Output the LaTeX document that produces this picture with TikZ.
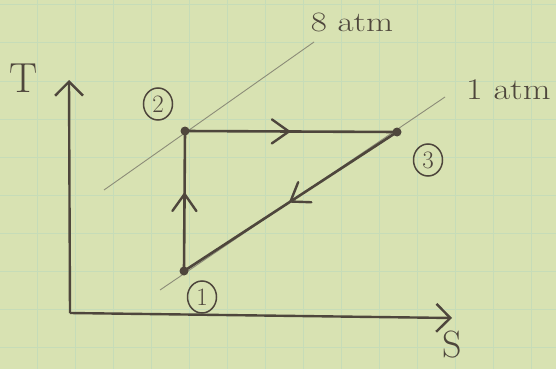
\documentclass[tikz,border=0pt]{standalone}
\usetikzlibrary{arrows.meta,decorations.markings,shapes.geometric}
\definecolor{paper}{RGB}{216,226,178}
\definecolor{gridc}{RGB}{198,220,184}
\definecolor{pencil}{RGB}{78,70,60}
\definecolor{faint}{RGB}{140,140,120}
\tikzset{
  axis/.style={draw=pencil, line width=2.4pt, -{Straight Barb[length=14pt,width=28pt,line width=2.4pt]}},
  cycleline/.style={draw=pencil, line width=2.6pt},
  isobar/.style={draw=faint, line width=0.9pt},
  state/.style={circle, fill=pencil, inner sep=0pt, minimum size=9pt},
  statelabel/.style={ellipse, draw=pencil, line width=1.5pt, inner sep=0pt, minimum width=29pt, minimum height=32pt, text=pencil, font=\fontsize{25}{25}\selectfont},
  handtext/.style={text=pencil, inner sep=0pt},
  midchevron/.style={postaction={decorate}, decoration={markings, mark=at position #1 with {\draw[pencil, line width=2.4pt, line cap=round, line join=round] (-17pt,-12pt) -- (0pt,0pt) -- (-17pt,12pt);}}}
}
\begin{document}
\begin{tikzpicture}[x=1pt,y=-1pt]
\useasboundingbox (0,0) rectangle (556,369);
\fill[paper] (0,0) rectangle (556,369);
% grid
\foreach \gx in {37,75,113,151,189,227,265,303,341,379,417,455,493,531}
  \draw[gridc, line width=1pt] (\gx,0) -- (\gx,369);
\foreach \gy in {5,43,81,119,157,195,233,271,309,347}
  \draw[gridc, line width=1pt] (0,\gy) -- (556,\gy);
% axes
\coordinate (O) at (70,313);
\coordinate (Ttip) at (69,80);
\coordinate (Stip) at (452,318);
\draw[axis] (O) -- (Ttip);
\draw[axis] (O) -- (Stip);
\node[handtext, font=\fontsize{42}{42}\selectfont] (Tlab) at (24,78) {T};
\node[handtext, font=\fontsize{38}{38}\selectfont] (Slab) at (452,345) {S};
% isobars
\coordinate (a8) at (104,190);
\coordinate (b8) at (314,42);
\coordinate (a1) at (160,290);
\coordinate (b1) at (445,97);
\draw[isobar] (a8) -- (b8);
\draw[isobar] (a1) -- (b1);
\node[handtext, font=\fontsize{28}{28}\selectfont, xscale=1.25] (p8lab) at (352,22) {8 atm};
\node[handtext, font=\fontsize{30}{30}\selectfont, xscale=1.2, anchor=west] (p1lab) at (466,90) {1 atm};
% states
\node[state] (s1) at (184,271) {};
\node[state] (s2) at (185,131) {};
\node[state] (s3) at (397,132) {};
\draw[cycleline, midchevron=0.55] (s1.center) -- (s2.center);
\draw[cycleline, midchevron=0.49] (s2.center) -- (s3.center);
\draw[cycleline, midchevron=0.50] (s3.center) -- (s1.center);
% state labels
\node[statelabel] (l1) at (202,297) {1};
\node[statelabel] (l2) at (158,104) {2};
\node[statelabel] (l3) at (428,160) {3};
\end{tikzpicture}
\end{document}
